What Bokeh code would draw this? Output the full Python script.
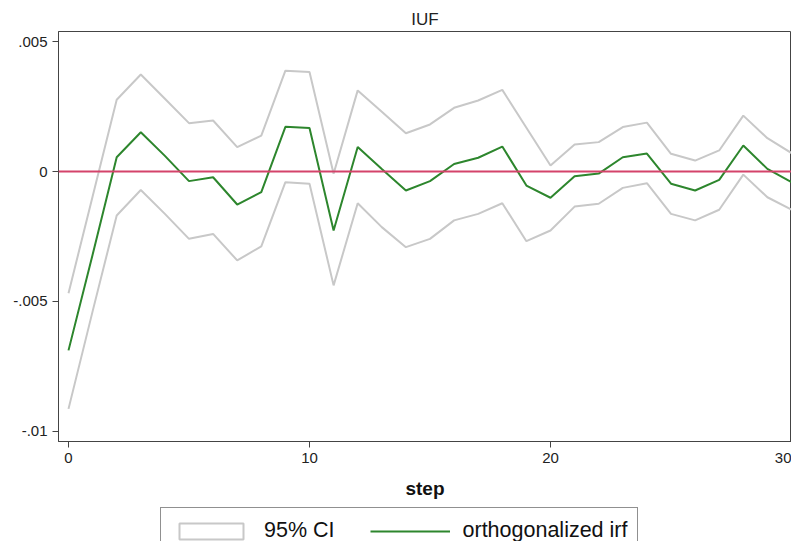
from bokeh.plotting import figure
from bokeh.models import Range1d, FixedTicker, Span, Legend, LegendItem
from bokeh.layouts import column
from bokeh.embed import file_html
from bokeh.resources import INLINE

# ---- data ----
step = list(range(31))
irf = [-0.00688, -0.0032, 0.00055, 0.00151, 0.0006, -0.00037, -0.00022, -0.00127,
       -0.00079, 0.00172, 0.00167, -0.00227, 0.00094, 0.0001, -0.00073, -0.00037,
       0.00029, 0.00053, 0.00096, -0.00054, -0.00101, -0.00018, -0.00008, 0.00055,
       0.00069, -0.00047, -0.00073, -0.00032, 0.001, 0.0001, -0.00041]
ci_upper = [-0.00468, -0.00096, 0.00276, 0.00373, 0.0028, 0.00186, 0.00196, 0.00094,
            0.00138, 0.00388, 0.00383, -0.00009, 0.00312, 0.0023, 0.00147, 0.00181,
            0.00245, 0.00273, 0.00314, 0.00168, 0.00023, 0.00104, 0.00113, 0.00171,
            0.00188, 0.00068, 0.00042, 0.00081, 0.00215, 0.00128, 0.00071]
ci_lower = [-0.00913, -0.00538, -0.00169, -0.00071, -0.00163, -0.00259, -0.0024, -0.00342,
            -0.00288, -0.00041, -0.00047, -0.00438, -0.00122, -0.00214, -0.00291, -0.00259,
            -0.00188, -0.00163, -0.00122, -0.00268, -0.00227, -0.00135, -0.00124, -0.00063,
            -0.00045, -0.00163, -0.00188, -0.00147, -0.00012, -0.00099, -0.00147]
x_ticks = [0, 10, 20, 30]
y_ticks = [-0.01, -0.005, 0, 0.005]
y_tick_labels = ["-.01", "-.005", "0", ".005"]
panel_title = "IUF"
x_label = "step"
legend_labels = ["95% CI", "orthogonalized irf"]

FONT = "Liberation Sans"
GREY = "#c8c8c8"
GREEN = "#2d862d"
RED = "#d4436a"
AXC = "#444444"

p = figure(width=791, height=503, output_backend="svg", toolbar_location=None,
           x_range=Range1d(-0.415, 30), y_range=Range1d(-0.010385, 0.005385),
           min_border_left=58, min_border_right=0, min_border_top=31,
           min_border_bottom=62, background_fill_color="white",
           border_fill_color="white")

p.title.text = panel_title
p.title.align = "center"
p.title.text_font = FONT
p.title.text_font_size = "17px"
p.title.text_font_style = "normal"
p.title.text_color = "#222222"
p.title.standoff = 5

p.outline_line_color = AXC
p.outline_line_width = 1
p.grid.visible = False

# axes
p.xaxis.ticker = FixedTicker(ticks=x_ticks)
p.yaxis.ticker = FixedTicker(ticks=y_ticks)
p.yaxis.major_label_overrides = {t: s for t, s in zip(y_ticks, y_tick_labels)}
for ax in (p.xaxis[0], p.yaxis[0]):
    ax.axis_line_color = AXC
    ax.major_tick_line_color = AXC
    ax.major_tick_out = 6
    ax.major_tick_in = 0
    ax.minor_tick_line_color = None
    ax.major_label_text_font = FONT
    ax.major_label_text_font_size = "15px"
    ax.major_label_text_color = "#222222"
    ax.major_label_standoff = 5
p.xaxis.axis_label = x_label
p.xaxis.axis_label_text_font = FONT
p.xaxis.axis_label_text_font_size = "19px"
p.xaxis.axis_label_text_font_style = "bold"
p.xaxis.axis_label_text_color = "#111111"
p.xaxis.axis_label_standoff = 12

# CI lines
p.line(step, ci_upper, line_color=GREY, line_width=2)
p.line(step, ci_lower, line_color=GREY, line_width=2)

# zero line
p.add_layout(Span(location=0, dimension="width", line_color=RED, line_width=2))

p.line(step, irf, line_color=GREEN, line_width=2)

# legend strip below the graph (swatch glyphs sit outside the strip's visible range)
lg = figure(width=791, height=38, output_backend="svg", toolbar_location=None,
            x_range=Range1d(0, 1), y_range=Range1d(0, 1), min_border=0,
            x_axis_type=None, y_axis_type=None,
            background_fill_color="white", border_fill_color="white")
lg.grid.visible = False
lg.outline_line_color = None
ci_box = lg.quad(left=[5], right=[6], top=[6], bottom=[5], fill_color="white",
                 line_color=GREY, line_width=2)
irf_swatch = lg.line(x=[5, 6], y=[5, 6], line_color=GREEN, line_width=2)

legend = Legend(items=[LegendItem(label=legend_labels[0], renderers=[ci_box]),
                       LegendItem(label=legend_labels[1], renderers=[irf_swatch])],
                orientation="horizontal", location=(102, -13),
                glyph_width=80, glyph_height=20, label_standoff=13, spacing=35,
                padding=10, margin=0,
                label_text_font=FONT, label_text_font_size="21.5px",
                label_text_color="#111111", label_height=20,
                border_line_color="#222222", border_line_width=1,
                background_fill_color="white", background_fill_alpha=1)
lg.add_layout(legend, "center")

layout = column(p, lg, spacing=0)
open("out.html", "w").write(file_html(layout, INLINE))
